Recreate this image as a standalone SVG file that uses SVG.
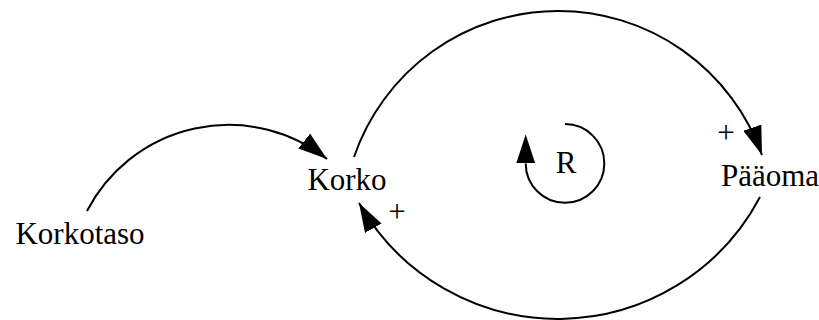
<svg xmlns="http://www.w3.org/2000/svg" width="819" height="320" viewBox="0 0 819 320">
  <defs>
    <!-- filled arrowhead, reference point at its tip -->
    <marker id="arrow" markerUnits="userSpaceOnUse" viewBox="0 0 29 19" refX="29" refY="9.5" markerWidth="29" markerHeight="19" orient="auto">
      <path d="M0,0 L29,9.5 L0,19 z" fill="#000"/>
    </marker>
    <!-- same arrowhead, reference point at its base -->
    <marker id="arrow-base" markerUnits="userSpaceOnUse" viewBox="0 0 29 19" refX="0" refY="9.5" markerWidth="29" markerHeight="19" orient="auto">
      <path d="M0,0 L29,9.5 L0,19 z" fill="#000"/>
    </marker>
  </defs>

  <rect width="819" height="320" fill="#fff"/>

  <g id="connectors" fill="none" stroke="#000" stroke-width="2">
    <!-- Korkotaso -> Korko -->
    <path d="M87,211 A159.3,159.3 0 0 1 327,159" marker-end="url(#arrow)"/>
    <!-- Korko -> Pääoma (+) -->
    <path d="M354,157 A216,216 0 0 1 762,155" marker-end="url(#arrow)"/>
    <!-- Pääoma -> Korko (+) -->
    <path d="M760,197 A228.5,228.5 0 0 1 359,203" marker-end="url(#arrow)"/>
  </g>

  <g font-family="'Liberation Serif', 'DejaVu Serif', serif" font-size="31" fill="#000" text-anchor="middle">
    <g id="polarity">
      <text x="726" y="143">+</text>
      <text x="397" y="222">+</text>
    </g>

    <g id="loop-R">
      <path d="M565,124.1 A39.3,39.3 0 1 1 525.7,163.4" fill="none" stroke="#000" stroke-width="2" marker-end="url(#arrow-base)"/>
      <text x="566" y="173">R</text>
    </g>

    <g id="node-korkotaso">
      <text x="80" y="244">Korkotaso</text>
    </g>
    <g id="node-korko">
      <text x="347" y="190">Korko</text>
    </g>
    <g id="node-paaoma">
      <text x="770" y="186">Pääoma</text>
    </g>
  </g>
</svg>
